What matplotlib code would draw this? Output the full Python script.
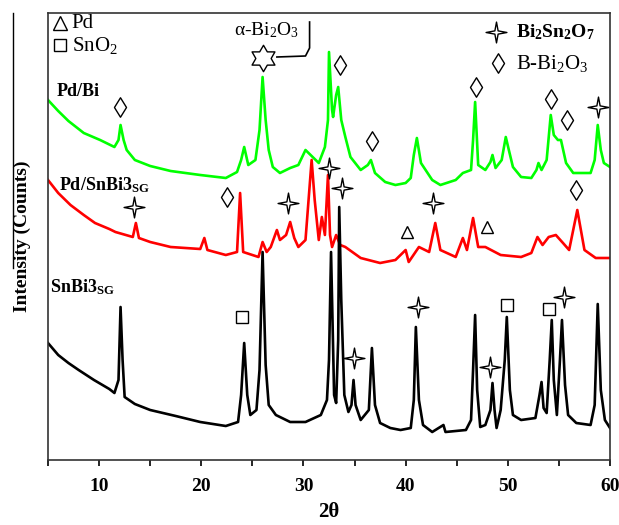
import math
import matplotlib
matplotlib.use('Agg')
import matplotlib.pyplot as plt
from matplotlib.path import Path
from matplotlib.lines import Line2D

plt.rcParams['font.family'] = ['Liberation Serif', 'DejaVu Serif']
plt.rcParams['mathtext.fontset'] = 'custom'
plt.rcParams['mathtext.rm'] = 'Liberation Serif'
plt.rcParams['mathtext.it'] = 'Liberation Serif:italic'
plt.rcParams['mathtext.bf'] = 'Liberation Serif:bold'

# XRD patterns (2theta, intensity in arbitrary counts, stacked)
snbi3_tt = [5.0, 6.0, 7.0, 8.0, 9.5, 11.0, 11.5, 11.9, 12.1, 12.3, 12.5, 13.5, 15.0, 17.5, 19.9, 22.4,
            23.6, 23.9, 24.2, 24.5,
            24.8, 25.4, 25.7, 26.0, 26.3, 26.6, 27.3, 28.7, 30.2, 31.7, 32.3, 32.5, 32.7, 33.0, 33.2,
            33.4, 33.5, 33.7, 34.0, 34.4, 34.7, 34.9, 35.1, 35.6, 36.4, 36.7, 37.0, 37.5, 38.5, 39.5,
            40.5, 40.8, 41.0, 41.3, 41.7, 42.6, 43.7, 43.9, 45.9, 46.4, 46.6, 46.8, 47.0, 47.3, 47.8,
            48.3, 48.5, 48.7, 48.9, 49.3, 49.7, 49.9, 50.2, 50.5, 51.3, 52.7, 53.1, 53.3, 53.5, 53.8,
            54.1, 54.3, 54.5, 54.8, 55.1, 55.3, 55.6, 55.9, 56.7, 58.1, 58.5, 58.8, 59.1, 59.5, 60.0]
snbi3_int = [117, 105, 97, 90, 80, 71, 67, 80, 153, 100, 63, 56, 50, 44, 38, 34,
             38, 65, 117, 65,
             45, 50, 90, 208, 95, 55, 45, 38, 38, 45, 60, 100, 208, 65, 57,
             120, 253, 160, 65, 48, 55, 80, 55, 40, 50, 112, 55, 37, 32, 30,
             32, 60, 133, 60, 35, 28, 35, 28, 30, 40, 90, 145, 70, 33, 35,
             50, 77, 50, 32, 50, 100, 143, 70, 45, 40, 42, 65, 78, 52, 47,
             100, 140, 80, 45, 100, 140, 75, 45, 37, 35, 55, 156, 70, 40, 32]

pdsn_tt = [5.0, 6.0, 7.2, 8.5, 9.6, 11.0, 11.6, 13.3, 13.6, 13.9, 15.0, 17.0, 19.9, 20.3, 20.6, 22.4,
           23.5, 23.8,
           24.1, 25.6, 26.0, 26.4, 26.8, 27.4, 27.7, 28.3, 28.7, 29.1, 29.5, 30.2, 30.5, 30.8, 31.1,
           31.5, 31.8, 32.1, 32.4, 32.6, 32.8, 33.2, 33.6, 34.1, 35.6, 37.5, 39.0, 40.0, 40.3, 41.3,
           42.3, 42.9, 43.4, 44.9, 45.6, 46.0, 46.6, 47.1, 47.8, 49.3, 51.3, 52.3, 52.9, 53.4, 54.0,
           54.7, 55.4, 56.0, 56.8, 57.5, 58.6, 60.0]
pdsn_int = [280, 267, 255, 245, 237, 231, 228, 223, 237, 222, 218, 213, 211, 222, 210, 205,
            208, 267,
            208, 203, 218, 208, 213, 230, 220, 225, 238, 222, 213, 220, 260, 300, 260,
            220, 243, 225, 285, 225, 213, 225, 215, 213, 202, 197, 200, 210, 198, 213,
            208, 237, 210, 203, 222, 210, 242, 213, 213, 205, 203, 207, 223, 215, 223,
            225, 217, 210, 250, 210, 202, 202]

pdbi_tt = [5.0, 6.0, 7.0, 8.5, 10.1, 11.5, 11.9, 12.1, 12.4, 12.7, 13.5, 15.0, 17.0, 19.9, 22.4,
           23.5, 23.9, 24.2,
           24.6, 25.3, 25.7, 26.0, 26.3, 26.6, 27.0, 27.7, 28.7, 29.5, 30.2, 30.9, 31.5, 32.1, 32.4,
           32.5, 32.8, 32.9, 33.2, 33.4, 33.7, 34.1, 34.6, 35.6, 36.3, 36.6, 37.0, 38.0, 39.0, 40.0,
           40.5, 40.8, 41.1, 41.5, 42.6, 43.4, 44.9, 45.6, 46.4, 46.6, 46.8, 47.1, 47.8, 48.3, 48.5,
           48.8, 49.4, 49.8, 50.1, 50.5, 51.3, 52.3, 52.8, 53.0, 53.3, 53.8, 54.2, 54.5, 54.9, 55.2,
           55.7, 56.4, 58.1, 58.5, 58.8, 59.1, 59.4, 60.0]
pdbi_int = [360, 349, 339, 327, 320, 313, 320, 335, 320, 310, 300, 294, 289, 285, 282,
            288, 300, 313,
            295, 300, 330, 383, 340, 310, 293, 287, 292, 295, 310, 303, 297, 313, 340,
            408, 350, 343, 365, 373, 340, 323, 303, 290, 295, 300, 287, 278, 275, 277,
            282, 305, 322, 297, 280, 275, 280, 287, 290, 320, 358, 295, 290, 298, 305,
            292, 300, 323, 310, 293, 283, 282, 290, 297, 290, 300, 345, 325, 320, 320,
            297, 287, 287, 300, 335, 310, 297, 293]

# phase markers
diamond_tt = [12.0, 22.5, 33.6, 36.7, 46.9, 54.2, 55.8, 56.7]
diamond_int = [353, 263, 395, 319, 373, 361, 340, 270]
star4_tt = [58.8, 13.4, 28.5, 32.5, 33.8, 42.7, 41.2, 34.9, 48.3, 55.5]
star4_int = [353, 253, 257, 292, 272, 257, 153, 102, 93, 163]
tri_tt = [40.1, 48.0]
tri_int = [228, 233]
square_tt = [24.0, 49.9, 54.0]
square_int = [143, 155, 151]
star6_tt = [26.0]
star6_int = [402]

diamond = Path([(0, 1), (0.62, 0), (0, -1), (-0.62, 0), (0, 1)],
               [Path.MOVETO, Path.LINETO, Path.LINETO, Path.LINETO, Path.CLOSEPOLY])
s4 = []
for k in range(8):
    r = 1.0 if k % 2 == 0 else 0.22
    a = math.radians(90 + k * 45)
    s4.append((r * math.cos(a), r * math.sin(a)))
s4.append(s4[0])
star4 = Path(s4, [Path.MOVETO] + [Path.LINETO] * 7 + [Path.CLOSEPOLY])
s6 = []
for k in range(12):
    r = 1.0 if k % 2 == 0 else 0.58
    a = math.radians(90 + k * 30)
    s6.append((r * math.cos(a), r * math.sin(a)))
s6.append(s6[0])
star6 = Path(s6, [Path.MOVETO] + [Path.LINETO] * 11 + [Path.CLOSEPOLY])

fig = plt.figure(figsize=(6.19, 5.25), dpi=100)
ax = fig.add_axes([48 / 619, 1 - 460 / 525, 562 / 619, 447 / 525])

ax.plot(pdbi_tt, pdbi_int, color='#00ff00', lw=1.9)
ax.plot(pdsn_tt, pdsn_int, color='#ff0000', lw=1.9)
ax.plot(snbi3_tt, snbi3_int, color='black', lw=1.9)

mk = dict(ls='none', mfc='white', mec='black', mew=1.0)
ax.plot(diamond_tt, diamond_int, marker=diamond, ms=14, **mk)
ax.plot(star4_tt, star4_int, marker=star4, ms=15, **mk)
ax.plot(tri_tt, tri_int, marker='^', ms=9, **mk)
ax.plot(square_tt, square_int, marker='s', ms=8, **mk)
ax.plot(star6_tt, star6_int, marker=star6, ms=19, **mk)

# legend-like annotations
ax.plot([6.2], [437], marker='^', ms=10, **mk)
ax.plot([6.2], [415], marker='s', ms=8, **mk)
ax.text(7.3, 436, 'Pd', fontsize=15, va='center')
ax.text(7.3, 415, r'SnO$_2$', fontsize=15, va='center')
ax.plot([48.8], [428], marker=star4, ms=15, **mk)
ax.plot([49.0], [397], marker=diamond, ms=14, **mk)
ax.text(50.8, 428, r'Bi$_\mathbf{2}$Sn$_\mathbf{2}$O$_\mathbf{7}$', fontsize=14,
        fontweight='bold', va='center')
ax.text(50.8, 397, r'B-Bi$_2$O$_3$', fontsize=15, va='center')
ax.text(23.2, 430, r'α-Bi$_2$O$_3$', fontsize=14, va='center')
ax.plot([30.6, 30.6, 30.2, 27.4], [438, 412, 404, 403], color='black', lw=1.2)

ax.text(5.8, 368, 'Pd/Bi', fontsize=13, fontweight='bold', va='center')
ax.text(6.1, 275, r'Pd/SnBi3$_\mathbf{SG}$', fontsize=13, fontweight='bold', va='center')
ax.text(5.2, 173, r'SnBi3$_\mathbf{SG}$', fontsize=13, fontweight='bold', va='center')

ax.set_xlim(5, 60)
ax.set_ylim(0, 447)
ax.set_yticks([])
ax.set_xticks([10, 20, 30, 40, 50, 60])
ax.set_xticks([5, 15, 25, 35, 45, 55], minor=True)
ax.tick_params(axis='x', which='both', direction='out', length=4, width=1.2, pad=9)
ax.tick_params(axis='x', which='major', labelsize=14)
for lab in ax.get_xticklabels():
    lab.set_fontweight('bold')
for sp in ax.spines.values():
    sp.set_linewidth(1.2)
    sp.set_color('#333333')

ax.set_xlabel('2θ', fontsize=15, fontweight='bold', labelpad=5)
ax.set_ylabel('Intensity (Counts)', fontsize=14, fontweight='bold', labelpad=12)

fig.add_artist(Line2D([13 / 619, 13 / 619], [1 - 13 / 525, 1 - 268 / 525], color='black', lw=1.0))

plt.savefig('out.png', dpi=100)
